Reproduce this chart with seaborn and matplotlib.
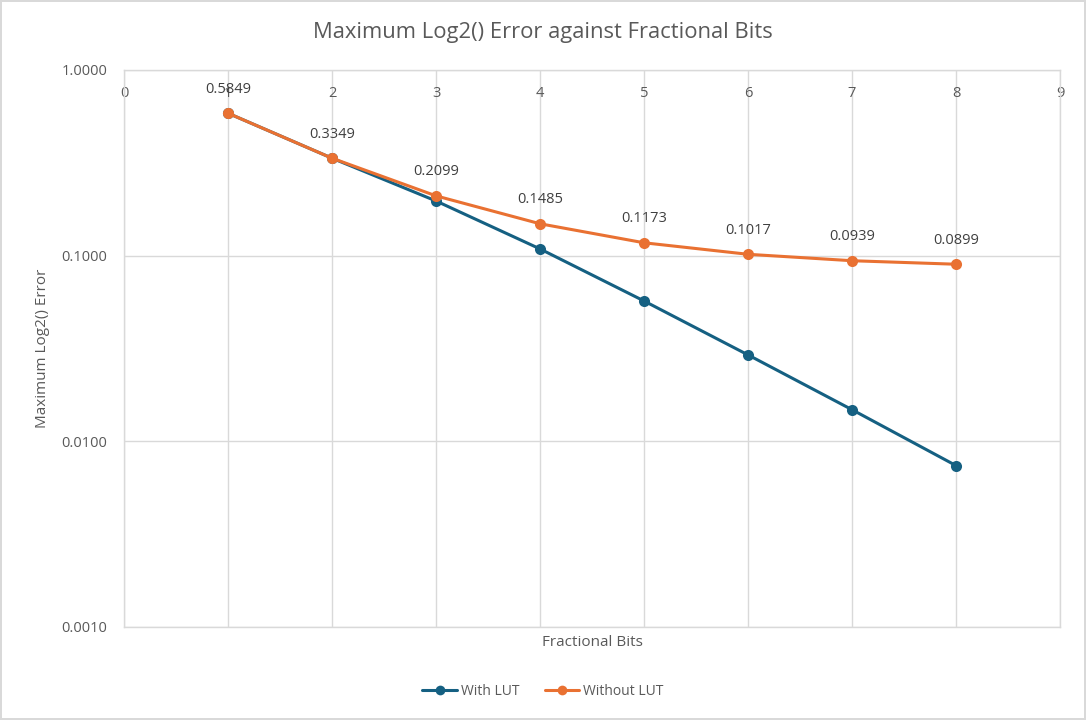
import numpy as np
import pandas as pd
import seaborn as sns
import matplotlib.pyplot as plt
from matplotlib.ticker import FixedLocator, NullLocator

# values
bits = [1, 2, 3, 4, 5, 6, 7, 8]
with_lut = [0.5849, 0.3349, 0.197, 0.1087, 0.057, 0.0292, 0.0148, 0.0074]
without_lut = [0.5849, 0.3349, 0.2099, 0.1485, 0.1173, 0.1017, 0.0939, 0.0899]
series_names = ['With LUT', 'Without LUT']
x_ticks = [0, 1, 2, 3, 4, 5, 6, 7, 8, 9]
y_ticks = [0.001, 0.01, 0.1, 1.0]

df = pd.DataFrame({
    'Fractional Bits': bits * 2,
    'Error': with_lut + without_lut,
    'Series': [series_names[0]] * len(bits) + [series_names[1]] * len(bits),
})

sns.set_style('white')
plt.rcParams['font.family'] = ['Open Sans', 'DejaVu Sans']
text_col = '#595959'
grid_col = '#d9d9d9'

fig = plt.figure(figsize=(10.86, 7.2), dpi=100)
fig.patch.set_edgecolor('#d9d9d9')
fig.patch.set_linewidth(1.5)
ax = fig.add_axes([0.1142, 0.1292, 0.8619, 0.7736])

sns.lineplot(data=df, x='Fractional Bits', y='Error', hue='Series',
             palette={'With LUT': '#156082', 'Without LUT': '#E97132'},
             marker='o', markersize=8, markeredgewidth=0, linewidth=2.2,
             ax=ax, legend=False)

ax.set_yscale('log')
ax.set_ylim(0.001, 1.0)
ax.set_xlim(0, 9)
ax.yaxis.set_major_locator(FixedLocator(y_ticks))
ax.yaxis.set_minor_locator(NullLocator())
ax.set_yticklabels([f'{v:.4f}' for v in y_ticks])
ax.set_xticks(x_ticks)
ax.xaxis.tick_top()
ax.tick_params(axis='x', length=0, pad=-22, labelsize=10.5, labelcolor=text_col)
ax.tick_params(axis='y', length=0, pad=12, labelsize=10.5, labelcolor=text_col)
ax.grid(True, color=grid_col, linewidth=1)
for s in ax.spines.values():
    s.set_color(grid_col)
    s.set_linewidth(1)

# data labels on the orange series
for x, y in zip(bits, without_lut):
    ax.annotate(f'{y:.4f}', (x, y), xytext=(0, 12), textcoords='offset points',
                ha='center', va='bottom', fontsize=10.5, color='#404040')

ax.set_xlabel('Fractional Bits', fontsize=11, color=text_col, labelpad=6)
ax.xaxis.set_label_position('bottom')
ax.set_ylabel('Maximum Log2() Error', fontsize=11, color=text_col, labelpad=8)
fig.suptitle('Maximum Log2() Error against Fractional Bits', y=0.97,
             fontsize=15.8, color=text_col)

handles = [plt.Line2D([], [], color=c, marker='o', markersize=7, markeredgewidth=0, linewidth=2.2)
           for c in ['#156082', '#E97132']]
fig.legend(handles, series_names, loc='center', bbox_to_anchor=(0.5, 0.04), ncol=2,
           frameon=False, fontsize=10, labelcolor=text_col, handlelength=2.5,
           handletextpad=0.3, columnspacing=1.8)

fig.savefig('out.png', dpi=100, edgecolor=fig.patch.get_edgecolor())
